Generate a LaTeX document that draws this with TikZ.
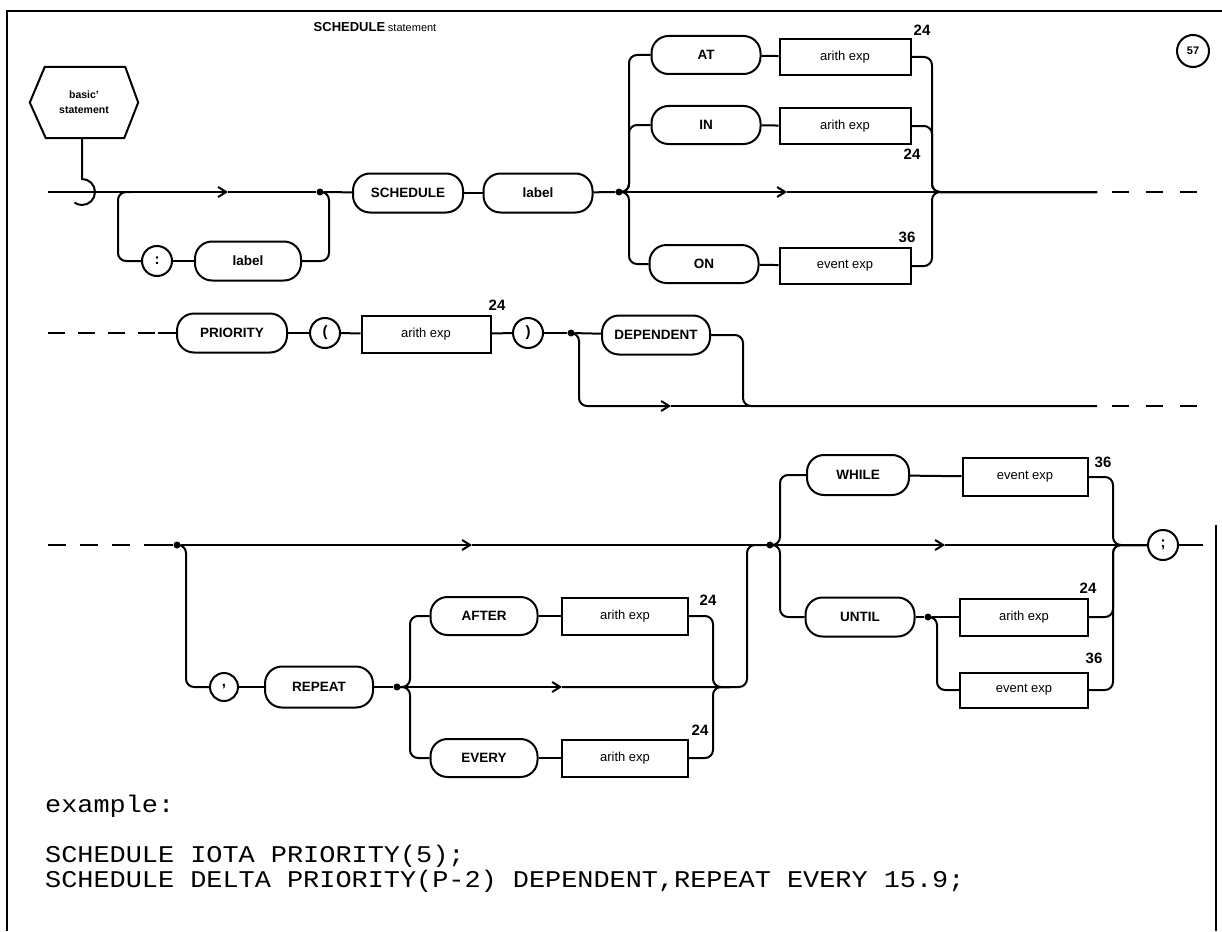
\documentclass[tikz,border=0pt]{standalone}
\usepackage{fontspec}
\setmainfont{Liberation Sans}
\setsansfont{Liberation Sans}
\newfontfamily\codefont{Liberation Mono}[FakeStretch=1.12]
\usetikzlibrary{arrows.meta,calc}
\begin{document}
\begin{tikzpicture}[x=1pt,y=-1pt,
 ln/.style={line width=2pt},
 rc/.style={ln,rounded corners=8pt},
 kw/.style={draw,ln,rounded corners=17pt,minimum height=39pt,inner sep=0pt,font=\sffamily\bfseries\fontsize{13.5}{14}\selectfont},
 bx/.style={draw,ln,rectangle,minimum height=36pt,inner sep=0pt,font=\sffamily\fontsize{13}{14}\selectfont},
 tk/.style={draw,ln,circle,minimum size=30pt,inner sep=0pt,font=\sffamily\bfseries\fontsize{15}{15}\selectfont},
 jd/.style={circle,fill,minimum size=7pt,inner sep=0pt},
 num/.style={font=\sffamily\bfseries\fontsize{15}{15}\selectfont,inner sep=0pt},
 arr/.style={ln,-{Straight Barb[length=8pt,width=10pt]}},
 dsh/.style={ln,dash pattern=on 17pt off 17pt},
 code/.style={anchor=west,inner sep=0pt,font=\codefont\fontsize{24}{24}\selectfont},
]
\useasboundingbox (0,0) rectangle (1222,931);
% frame
\draw[line width=2.5pt] (7,931) -- (7,11) -- (1222,11);
\draw[line width=1.5pt] (1216,525) -- (1216,931);
% title and page number
\node[inner sep=0pt] (title) at (375,27) {{\fontsize{13}{14}\selectfont\bfseries SCHEDULE} {\fontsize{11}{12}\selectfont statement}};
\node[draw,circle,line width=2pt,minimum size=32pt,inner sep=0pt,font=\sffamily\bfseries\fontsize{11}{11}\selectfont] (pg) at (1193,51) {57};
% hexagon
\node[minimum width=108pt,minimum height=71pt,inner sep=0pt,align=center,font=\sffamily\bfseries\fontsize{10.5}{15}\selectfont] (hex) at (84,102.5) {basic'\\statement};
\draw[ln] (hex.west) -- ($(hex.north west)+(15,0)$) -- ($(hex.north east)+(-13,0)$) -- (hex.east) -- ($(hex.south east)+(-14,0)$) -- ($(hex.south west)+(16,0)$) -- cycle;
\coordinate (lp) at (82,179);
\draw[ln] (hex.south -| lp) -- (lp) arc[start angle=-90,end angle=125,radius=13];
% ---------- row 1
\coordinate (s1) at (48,192);
\coordinate (a1) at (228,192);
\node[jd] (d1) at (320,192) {};
\node[kw,minimum width=110pt] (sch) at (408,193) {SCHEDULE};
\node[kw,minimum width=109pt] (lb1) at (538,193) {label};
\node[jd] (d2) at (619,192) {};
\draw[arr] (s1) -- (a1);
\draw[ln] (a1) -- (d1);
\draw[ln] (d1) -- (sch);
\draw[ln] (sch) -- (lb1);
\draw[ln] (lb1) -- (d2);
\coordinate (b1) at (132,192);
\coordinate (bx1) at (118,261);
\coordinate (bx2) at (329,192);
\node[tk] (col) at (157,261) {:};
\node[kw,minimum width=106pt] (lb0) at (248,261) {label};
\draw[rc] (b1) -| (bx1) -- (col);
\draw[ln] (col) -- (lb0);
\draw[rc] (lb0) -| (bx2) -- (d1.center);
\coordinate (r1l) at (629,192);
\coordinate (r1r) at (932,192);
\coordinate (e1) at (1097,192);
\node[kw,minimum width=109pt,minimum height=38pt] (at) at (706,55) {AT};
\node[bx,minimum width=131pt] (atx) at (845,57) {arith exp};
\node[kw,minimum width=109pt,minimum height=38pt] (in) at (706,125) {IN};
\node[bx,minimum width=131pt] (inx) at (845,126) {arith exp};
\node[kw,minimum width=109pt,minimum height=38pt] (on) at (704,264) {ON};
\node[bx,minimum width=131pt] (onx) at (845,266) {event exp};
\node[num] (n1) at (922,30) {24};
\node[num] (n2) at (912,154) {24};
\node[num] (n3) at (907,237) {36};
\draw[rc] (d2.center) -| (r1l |- at) -- (at);
\draw[rc] (d2.center) -| (r1l |- in) -- (in);
\draw[rc] (d2.center) -| (r1l |- on) -- (on);
\draw[ln] (at) -- (atx);
\draw[ln] (in) -- (inx);
\draw[ln] (on) -- (onx);
\draw[rc] (atx) -| (r1r) -- (e1);
\draw[rc] (inx) -| (r1r) -- (e1);
\draw[rc] (onx) -| (r1r) -- (e1);
\coordinate (a1b) at (787,192);
\draw[arr] (d2) -- (a1b);
\draw[ln] (a1b) -- (e1);
\coordinate (e1d) at (1112,192);
\coordinate (e1e) at (1205,192);
\draw[dsh] (e1d) -- (e1e);
% ---------- row 2
\coordinate (s2) at (48,333);
\coordinate (s2b) at (158,333);
\node[kw,minimum width=110pt] (pri) at (232,333) {PRIORITY};
\node[tk] (lp2) at (325,333) {(};
\node[bx,minimum width=129pt,minimum height=37pt] (pex) at (426,334) {arith exp};
\node[num] (n4) at (497,305) {24};
\node[tk] (rp2) at (528,333) {)};
\node[jd] (d3) at (571,333) {};
\node[kw,minimum width=108pt] (dep) at (656,335) {DEPENDENT};
\draw[ln,dash pattern=on 17pt off 13pt] (s2) -- (s2b);
\draw[ln] (s2b) -- (pri);
\draw[ln] (pri) -- (lp2);
\draw[ln] (lp2) -- (pex);
\draw[ln] (pex) -- (rp2);
\draw[ln] (rp2) -- (d3);
\draw[ln] (d3) -- (dep);
\coordinate (r2l) at (579,406);
\coordinate (a2) at (671,406);
\coordinate (r2r) at (743,406);
\coordinate (e2) at (1097,406);
\draw[rc,-{Straight Barb[length=8pt,width=10pt]}] (d3.center) -| (r2l) -- (a2);
\draw[ln] (a2) -- (e2);
\draw[rc] (dep) -| (r2r) -- (e2);
\coordinate (e2d) at (1112,406);
\coordinate (e2e) at (1205,406);
\draw[dsh] (e2d) -- (e2e);
% ---------- row 3
\coordinate (s3) at (48,545);
\coordinate (s3b) at (162,545);
\node[jd] (d4) at (177,545) {};
\coordinate (a4) at (472,545);
\node[jd] (d5) at (770,545) {};
\draw[ln,dash pattern=on 18pt off 14pt] (s3) -- (s3b);
\draw[ln] (s3b) -- (d4);
\draw[arr] (d4) -- (a4);
\draw[ln] (a4) -- (d5);
\coordinate (r3a) at (186,687);
\node[tk,minimum size=28pt] (cm) at (224,687) {,};
\node[kw,minimum width=108pt,minimum height=41pt] (rep) at (319,687) {REPEAT};
\node[jd] (d6) at (397,687) {};
\draw[rc] (d4.center) -| (r3a) -- (cm);
\draw[ln] (cm) -- (rep);
\draw[ln] (rep) -- (d6);
\node[kw,minimum width=107pt,minimum height=38pt] (aft) at (484,616) {AFTER};
\node[bx,minimum width=126pt,minimum height=37pt] (aftx) at (625,616) {arith exp};
\node[kw,minimum width=107pt,minimum height=38pt] (eve) at (484,758) {EVERY};
\node[bx,minimum width=126pt,minimum height=37pt] (evex) at (625,758) {arith exp};
\node[num] (n5) at (708,600) {24};
\node[num] (n6) at (700,730) {24};
\coordinate (r3b) at (410,687);
\draw[rc] (d6.center) -| (r3b |- aft) -- (aft);
\draw[rc] (d6.center) -| (r3b |- eve) -- (eve);
\draw[ln] (aft) -- (aftx);
\draw[ln] (eve) -- (evex);
\coordinate (a3) at (562,687);
\coordinate (m3) at (713,687);
\coordinate (m3e) at (730,687);
\coordinate (m3b) at (747,687);
\draw[arr] (d6) -- (a3);
\draw[rc] (a3) -- (m3b) |- (d5.center);
\draw[rc] (aftx) -| (m3) -- (m3e);
\draw[rc] (evex) -| (m3) -- (m3e);
\coordinate (r3l) at (780,545);
\node[kw,minimum width=102pt,minimum height=40pt] (whi) at (858,475) {WHILE};
\node[bx,minimum width=125pt,minimum height=38pt] (whix) at (1025,477) {event exp};
\node[num] (n7) at (1103,462) {36};
\node[kw,minimum width=109pt,minimum height=39pt] (unt) at (860,617) {UNTIL};
\node[jd] (d7) at (928,617) {};
\node[bx,minimum width=128pt,minimum height=37pt] (untx) at (1024,617) {arith exp};
\node[num] (n8) at (1088,588) {24};
\node[bx,minimum width=128pt,minimum height=35pt] (unte) at (1024,690) {event exp};
\node[num] (n9) at (1094,658) {36};
\draw[rc] (d5.center) -| (r3l |- whi) -- (whi);
\draw[rc] (d5.center) -| (r3l |- unt) -- (unt);
\draw[ln] (whi) -- (whix);
\draw[ln] (unt) -- (d7);
\draw[ln] (d7) -- (untx);
\coordinate (r3u) at (937,690);
\draw[rc] (d7.center) -| (r3u) -- (unte);
\coordinate (r3r) at (1113,545);
\node[tk] (semi) at (1163,545) {;};
\coordinate (e3) at (1203,545);
\coordinate (a5) at (945,545);
\draw[arr] (d5) -- (a5);
\draw[ln] (a5) -- (semi);
\draw[rc] (whix) -| (r3r) -- (semi);
\draw[rc] (untx) -| (r3r) -- (semi);
\draw[rc] (unte) -| (r3r) -- (semi);
\draw[ln] (semi) -- (e3);
% ---------- example
\node[code] (ex) at (45,806) {example:};
\node[code] (ex1) at (45,856) {SCHEDULE IOTA PRIORITY(5);};
\node[code] (ex2) at (45,881) {SCHEDULE DELTA PRIORITY(P-2) DEPENDENT,REPEAT EVERY 15.9;};
\end{tikzpicture}
\end{document}
